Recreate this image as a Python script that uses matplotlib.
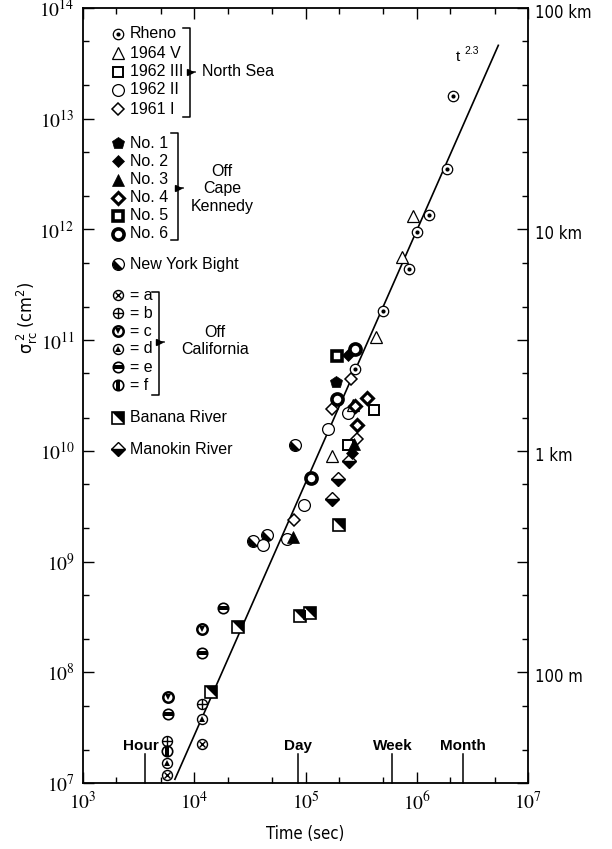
import numpy as np
import matplotlib
matplotlib.use('Agg')
import matplotlib.pyplot as plt
import matplotlib.ticker as mticker
from matplotlib.path import Path
from matplotlib.transforms import ScaledTranslation, blended_transform_factory
from matplotlib.lines import Line2D

plt.rcParams['mathtext.fontset'] = 'stix'
plt.rcParams['font.family'] = ['Liberation Sans', 'DejaVu Sans']

# ---------------- data (time in s, sigma_rc^2 in cm^2) ----------------
rheno_t = [2.12e6, 1.86e6, 1.29e6, 1.0e6, 8.5e5, 4.94e5, 2.79e5]
rheno_s = [1.60e13, 3.5e12, 1.35e12, 9.5e11, 4.4e11, 1.85e11, 5.45e10]
ns1964v_t = [9.2e5, 7.33e5, 4.3e5, 2.69e5, 1.74e5]
ns1964v_s = [1.32e12, 5.64e11, 1.07e11, 2.6e10, 8.97e9]
ns1962iii_t = [4.15e5, 2.39e5]
ns1962iii_s = [2.34e10, 1.13e10]
ns1962ii_t = [2.43e5, 1.58e5, 9.75e4, 6.78e4, 4.18e4]
ns1962ii_s = [2.18e10, 1.58e10, 3.26e9, 1.61e9, 1.40e9]
ns1961i_t = [2.56e5, 1.72e5, 7.89e4, 2.92e5]
ns1961i_s = [4.46e10, 2.37e10, 2.37e9, 1.29e10]
ck1_t = [1.88e5]
ck1_s = [4.2e10]
ck2_t = [2.43e5, 2.60e5]
ck2_s = [7.3e10, 9.6e9]
ck3_t = [2.75e5, 7.76e4]
ck3_s = [1.16e10, 1.66e9]
ck4_t = [2.79e5, 3.55e5, 2.88e5]
ck4_s = [2.54e10, 3.0e10, 1.72e10]
ck5_t = [1.93e5]
ck5_s = [7.2e10]
ck6_t = [2.79e5, 1.93e5, 1.11e5]
ck6_s = [8.4e10, 2.96e10, 5.7e9]
nyb_t = [8.05e4, 3.4e4, 4.48e4]
nyb_s = [1.13e10, 1.52e9, 1.72e9]
cal_a_t = [5.7e3, 1.17e4]
cal_a_s = [1.18e7, 2.24e7]
cal_b_t = [5.7e3, 1.17e4]
cal_b_s = [2.39e7, 5.17e7]
cal_c_t = [5.8e3, 1.17e4]
cal_c_s = [5.93e7, 2.47e8]
cal_d_t = [5.7e3, 1.17e4]
cal_d_s = [1.51e7, 3.8e7]
cal_e_t = [5.8e3, 1.17e4, 1.80e4]
cal_e_s = [4.17e7, 1.49e8, 3.83e8]
cal_f_t = [5.7e3]
cal_f_s = [1.94e7]
banana_t = [2.01e5, 8.9e4, 1.10e5, 2.49e4, 1.41e4]
banana_s = [2.12e9, 3.22e8, 3.45e8, 2.56e8, 6.7e7]
manokin_t = [2.48e5, 1.95e5, 1.74e5]
manokin_s = [8.1e9, 5.6e9, 3.66e9]

fit_t = [6.7e3, 5.41e6]
fit_s = [1.08e7, 4.6e13]

time_marks = [3600, 86400, 604800, 2592000]
time_labels = ['Hour', 'Day', 'Week', 'Month']
km_values = [1e14, 1e12, 1e10, 1e8]
km_labels = ['100 km', '10 km', '1 km', '100 m']

# ---------------- marker styles ----------------
def poly(verts):
    v = np.vstack([verts, verts[:1]])
    return Path(v, closed=True)

th = np.linspace(0.75 * np.pi, 1.75 * np.pi, 40)
HALF = poly(np.column_stack([np.cos(th), np.sin(th)]))
HBAR = poly(np.array([[-1, -0.32], [1, -0.32], [1, 0.32], [-1, 0.32]]))
VBAR = poly(np.array([[-0.32, -1], [0.32, -1], [0.32, 1], [-0.32, 1]]))
TRI = poly(np.array([[-1, 1], [1, 1], [1, -1]]))

W = dict(mfc='white', mec='black')
K = dict(mfc='black', mec='black')
STY = {
    'rheno': [('o', dict(ms=7.5, mew=0.9, **W)), ('o', dict(ms=3.0, mew=0, **K))],
    '1964v': [('^', dict(ms=8, mew=0.9, **W))],
    '1962iii': [('s', dict(ms=7.5, mew=1.4, **W))],
    '1962ii': [('o', dict(ms=8.5, mew=0.9, **W))],
    '1961i': [('D', dict(ms=6.3, mew=1.1, **W))],
    'no1': [('p', dict(ms=9, mew=0.5, **K))],
    'no2': [('D', dict(ms=6.3, mew=0.5, **K))],
    'no3': [('^', dict(ms=8.5, mew=0.5, **K))],
    'no4': [('D', dict(ms=6.0, mew=2.2, **W))],
    'no5': [('s', dict(ms=7.5, mew=2.6, **W))],
    'no6': [('o', dict(ms=8, mew=2.6, **W))],
    'nyb': [('o', dict(ms=8.5, mew=0.9, **W)), (HALF, dict(ms=8.0, mew=0, **K))],
    'a': [('o', dict(ms=7.2, mew=1.0, **W)), ('x', dict(ms=4.8, mew=1.0, **K))],
    'b': [('o', dict(ms=7.2, mew=1.0, **W)), ('+', dict(ms=7.0, mew=1.0, **K))],
    'c': [('o', dict(ms=7.5, mew=1.8, **W)), ('v', dict(ms=4.6, mew=0, **K))],
    'd': [('o', dict(ms=7.2, mew=1.0, **W)), ('^', dict(ms=4.6, mew=0, **K))],
    'e': [('o', dict(ms=7.5, mew=1.2, **W)), (HBAR, dict(ms=6.8, mew=0, **K))],
    'f': [('o', dict(ms=7.5, mew=1.2, **W)), (VBAR, dict(ms=6.8, mew=0, **K))],
    'banana': [('s', dict(ms=8, mew=1.2, **W)), (TRI, dict(ms=8, mew=0, **K))],
    'manokin': [('D', dict(ms=7.2, mew=1.0, fillstyle='bottom', markerfacecoloralt='white', **K))],
}

fig = plt.figure(figsize=(6.12, 8.49), dpi=100)
ax = fig.add_axes([83 / 612, 1 - 783 / 849, 445 / 612, 775 / 849])
ax.set_xscale('log')
ax.set_yscale('log')
ax.set_xlim(1e3, 1e7)
ax.set_ylim(1e7, 1e14)


def draw(xs, ys, kind, transform=None, z=3):
    kw = dict(linestyle='none', clip_on=False, zorder=z)
    if transform is not None:
        kw['transform'] = transform
    for m, o in STY[kind]:
        ax.plot(xs, ys, marker=m, **o, **kw)


# fit line
ax.plot(fit_t, fit_s, color='black', lw=1.2, zorder=2)
ax.text(0.843, 0.937, 't', transform=ax.transAxes, fontsize=11, ha='center', va='center')
ax.text(0.873, 0.945, '2.3', transform=ax.transAxes, fontsize=7.5, ha='center', va='center')

series = [
    (nyb_t, nyb_s, 'nyb'), (banana_t, banana_s, 'banana'), (manokin_t, manokin_s, 'manokin'),
    (ns1962ii_t, ns1962ii_s, '1962ii'), (ns1961i_t, ns1961i_s, '1961i'),
    (ns1962iii_t, ns1962iii_s, '1962iii'), (ns1964v_t, ns1964v_s, '1964v'),
    (rheno_t, rheno_s, 'rheno'),
    (ck1_t, ck1_s, 'no1'), (ck2_t, ck2_s, 'no2'), (ck3_t, ck3_s, 'no3'),
    (ck4_t, ck4_s, 'no4'), (ck5_t, ck5_s, 'no5'), (ck6_t, ck6_s, 'no6'),
    (cal_a_t, cal_a_s, 'a'), (cal_b_t, cal_b_s, 'b'), (cal_c_t, cal_c_s, 'c'),
    (cal_d_t, cal_d_s, 'd'), (cal_e_t, cal_e_s, 'e'), (cal_f_t, cal_f_s, 'f'),
]
for xs, ys, k in series:
    draw(xs, ys, k)

# ---------------- axes, ticks ----------------
for s in ax.spines.values():
    s.set_linewidth(1.3)
ax.xaxis.set_major_locator(mticker.LogLocator(base=10, numticks=20))
ax.yaxis.set_major_locator(mticker.LogLocator(base=10, numticks=20))
ax.xaxis.set_minor_locator(mticker.LogLocator(base=10, subs=(2, 5), numticks=20))
ax.yaxis.set_minor_locator(mticker.LogLocator(base=10, subs=(2, 5), numticks=20))
fmt = mticker.FuncFormatter(lambda v, p: r'$10^{%d}$' % round(np.log10(v)))
ax.xaxis.set_major_formatter(fmt)
ax.yaxis.set_major_formatter(fmt)
ax.xaxis.set_minor_formatter(mticker.NullFormatter())
ax.yaxis.set_minor_formatter(mticker.NullFormatter())
ax.tick_params(which='both', direction='in', top=True, right=True, width=1.0)
ax.tick_params(which='major', length=8, labelsize=14, pad=6)
ax.tick_params(which='minor', length=4.5)

narrow = dict(family=['DejaVu Sans'], fontstretch='condensed')
ax.set_xlabel('Time (sec)', fontsize=12, labelpad=8, **narrow)
fig.text(27 / 612, 1 - 318 / 849, r'$\mathdefault{σ_{rc}^{\ 2}\ (cm^{2})}$', rotation=90,
         ha='center', va='center', fontsize=13, **narrow)

# right-hand km labels
for v, lab in zip(km_values, km_labels):
    ax.text(1.015, v, lab, transform=blended_transform_factory(ax.transAxes, ax.transData)
            + ScaledTranslation(0, -5 / 100, fig.dpi_scale_trans),
            ha='left', va='center', fontsize=12, **narrow)

# hour/day/week/month marks
bt = blended_transform_factory(ax.transData, ax.transAxes)
for tm, lab in zip(time_marks, time_labels):
    ax.plot([tm, tm], [0, 0.038], color='black', lw=1.1, transform=bt, clip_on=False)
    dx = -4 / 100 if lab == 'Hour' else 0
    ax.text(tm, 0.048, lab, transform=bt + ScaledTranslation(dx, 0, fig.dpi_scale_trans),
            ha='center', va='center', fontsize=11, fontweight='bold')

# ---------------- legend ----------------
def fx(px):
    return (px - 83) / 445


def fy(py):
    return (783 - py) / 775


ta = ax.transAxes
legend_rows = [
    ('rheno', 'Rheno', 34), ('1964v', '1964 V', 53), ('1962iii', '1962 III', 72),
    ('1962ii', '1962 II', 90), ('1961i', '1961 I', 109),
    ('no1', 'No. 1', 143), ('no2', 'No. 2', 161), ('no3', 'No. 3', 180),
    ('no4', 'No. 4', 198), ('no5', 'No. 5', 216), ('no6', 'No. 6', 234),
    ('nyb', 'New York Bight', 264),
    ('a', '= a', 295), ('b', '= b', 313), ('c', '= c', 331),
    ('d', '= d', 349), ('e', '= e', 367), ('f', '= f', 385),
    ('banana', 'Banana River', 418), ('manokin', 'Manokin River', 449),
]
for k, lab, py in legend_rows:
    draw([fx(118)], [fy(py)], k, transform=ta, z=4)
    ax.text(fx(130), fy(py), lab, transform=ta, ha='left', va='center', fontsize=11.5)


def bracket(x, y0, y1, ya, left=7):
    kw = dict(color='black', lw=1.1, transform=ta, clip_on=False)
    ax.add_line(Line2D([fx(x - left), fx(x), fx(x), fx(x - left)], [fy(y0), fy(y0), fy(y1), fy(y1)], **kw))
    ax.plot([fx(x)], [fy(ya)], marker='>', ms=4, color='black', transform=ta, clip_on=False)
    ax.add_line(Line2D([fx(x), fx(x + 5)], [fy(ya), fy(ya)], **kw))


bracket(190, 28, 117, 72)
ax.text(fx(202), fy(72), 'North Sea', transform=ta, ha='left', va='center', fontsize=11.5)
bracket(178, 133, 240, 188)
ax.text(fx(222), fy(189), 'Off\nCape\nKennedy', transform=ta, ha='center', va='center',
        fontsize=11.5, linespacing=1.2)
bracket(159, 292, 395, 342)
ax.text(fx(215), fy(341), 'Off\nCalifornia', transform=ta, ha='center', va='center',
        fontsize=11.5, linespacing=1.2)

fig.savefig('out.png', dpi=100)
